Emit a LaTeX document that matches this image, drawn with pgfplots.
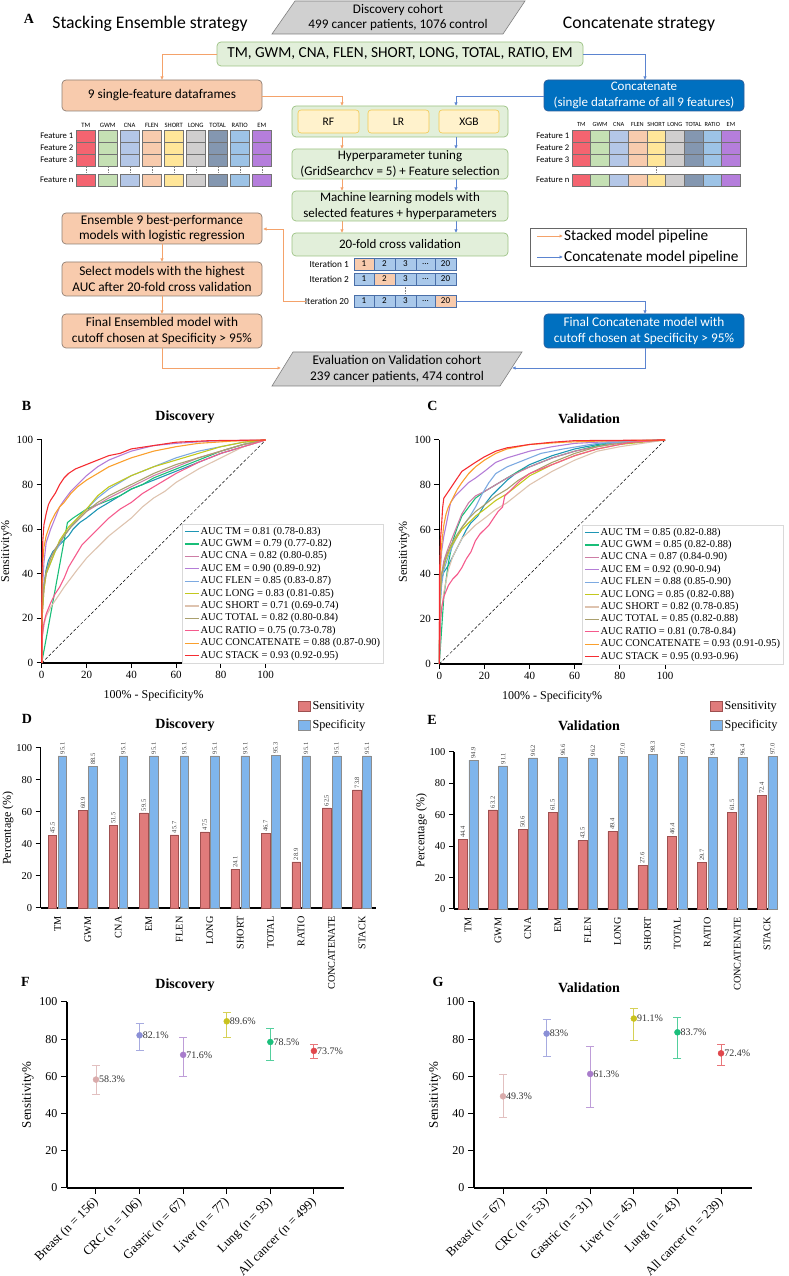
\documentclass[border=0pt]{standalone}
\usepackage{pgfplots}
\pgfplotsset{compat=1.18}
\usepackage{fontspec}
\setmainfont{Liberation Serif}
\newfontfamily\calibri{Carlito}
\usetikzlibrary{arrows.meta}
% curve colours
\definecolor{cTM}{RGB}{30,150,180}
\definecolor{cGWM}{RGB}{25,190,120}
\definecolor{cCNA}{RGB}{205,125,165}
\definecolor{cEM}{RGB}{180,125,215}
\definecolor{cFLEN}{RGB}{125,170,225}
\definecolor{cLONG}{RGB}{195,200,30}
\definecolor{cSHORT}{RGB}{222,195,175}
\definecolor{cTOTAL}{RGB}{170,160,110}
\definecolor{cRATIO}{RGB}{245,90,140}
\definecolor{cCONC}{RGB}{250,160,45}
\definecolor{cSTACK}{RGB}{245,45,50}
% bars
\definecolor{sensf}{HTML}{E07B7B}
\definecolor{sensd}{HTML}{9E5050}
\definecolor{specf}{HTML}{7FB5EC}
\definecolor{specd}{HTML}{8C8C8C}
% points
\definecolor{pBreast}{HTML}{D9ABAB}
\definecolor{pCRC}{HTML}{8A8FD6}
\definecolor{pGastric}{HTML}{A87CCB}
\definecolor{pLiver}{HTML}{C9C21E}
\definecolor{pLung}{HTML}{1BBF7C}
\definecolor{pAll}{HTML}{E0474C}
% flowchart
\definecolor{gfill}{HTML}{E2EFDA}
\definecolor{gdraw}{HTML}{9CC283}
\definecolor{ofill}{HTML}{F8CBAD}
\definecolor{odraw}{HTML}{8F7F74}
\definecolor{bbox}{HTML}{0070C0}
\definecolor{bdraw}{HTML}{2E5E9A}
\definecolor{yfill}{HTML}{FFF2CC}
\definecolor{ydraw}{HTML}{F4C84F}
\definecolor{pgray}{HTML}{D0D0D0}
\definecolor{pgrayd}{HTML}{808080}
\definecolor{oarrow}{HTML}{F4A26A}
\definecolor{barrow}{HTML}{5B84D0}
\definecolor{cellb}{HTML}{A9C8EA}
\definecolor{celld}{HTML}{4A6FA8}
\definecolor{fTM}{HTML}{F46470}
\definecolor{fGWM}{HTML}{C5E0B4}
\definecolor{fCNA}{HTML}{B4C7E7}
\definecolor{fFLEN}{HTML}{F8CBAD}
\definecolor{fSHORT}{HTML}{FFE699}
\definecolor{fLONG}{HTML}{D0CECE}
\definecolor{fTOTAL}{HTML}{8497B0}
\definecolor{fRATIO}{HTML}{9DC3E6}
\definecolor{fEM}{HTML}{B57EDC}
\def\threedots{...}
\newcommand\legfont{\fontsize{10.5}{12}\selectfont}

\pgfplotsset{
  gp/.style={scale only axis, anchor=south west, axis x line*=bottom, axis y line*=left,
    axis line style={line width=1.3pt}, tick style={line width=1pt, black},
    tick align=outside, major tick length=5pt,
    tick label style={font=\fontsize{11}{12}\selectfont},
    label style={font=\fontsize{12}{13}\selectfont}, ylabel shift=-2pt,
    /pgf/number format/assume math mode=true, clip=false},
  roc/.style={gp, xmin=0,xmax=100,ymin=0,ymax=100, xtick={0,20,...,100}, ytick={0,20,...,100},
    xlabel={100\% - Specificity\%}, ylabel={Sensitivity\%}, xlabel shift=4pt,
    legend cell align=left,
    legend style={anchor=south west, draw=black!15, fill=white, font=\legfont,
      inner xsep=2pt, inner ysep=1pt, row sep=0pt, nodes={inner sep=1.2pt, font=\legfont, text height=7.6pt, text depth=2.4pt}},
    legend image code/.code={\draw[##1, line width=1.3pt] (0pt,0pt) -- (14pt,0pt);},
    every axis plot/.append style={line width=1.1pt, mark=none}},
  bars/.style={gp, ybar=1.5pt, bar width=8.5pt, ymin=0, ymax=100, ytick={0,20,...,100}, xtick={0,...,10},
    tick label style={font=\fontsize{10.5}{12}\selectfont},
    xticklabels={TM,GWM,CNA,EM,FLEN,LONG,SHORT,TOTAL,RATIO,CONCATENATE,STACK},
    xticklabel style={rotate=90, anchor=east, font=\fontsize{10.2}{12}\selectfont},
    x tick style={draw=none}, ylabel={Percentage (\%)}, ylabel shift=-4pt,
    nodes near coords={\pgfmathprintnumber[fixed,fixed zerofill,precision=1]{\pgfplotspointmeta}},
    every node near coord/.append style={rotate=90, anchor=west, font=\fontsize{6.5}{7}\selectfont, text=black!75, inner sep=1.5pt},
    legend style={anchor=north west, draw=none, fill=none, font=\fontsize{12.2}{13}\selectfont, row sep=5pt},
    legend cell align=left,
    legend image code/.code={\draw[##1] (0pt,-5pt) rectangle (12pt,5pt);}},
  pts/.style={gp, ymin=0, ymax=100, ytick={0,20,...,100}, xtick={0,...,5}, major tick length=6pt,
    tick label style={font=\fontsize{12}{13}\selectfont},
    xticklabel style={xshift=3pt, yshift=-4pt, rotate=45, anchor=east, font=\fontsize{12.8}{14}\selectfont},
    ylabel={Sensitivity\%}, ylabel shift=-1pt, label style={font=\fontsize{13}{14}\selectfont},
    every axis plot/.append style={only marks, mark=*, mark size=3pt, nodes near coords, point meta=explicit symbolic,
      error bars/y dir=both, error bars/y explicit},
    every node near coord/.append style={anchor=west, font=\fontsize{10}{11}\selectfont, text=black!80, xshift=2pt, inner sep=1pt}},
  eb/.style={color=#1, error bars/error bar style={#1!75, line width=0.9pt},
    error bars/error mark options={rotate=90, mark size=4pt, #1!75, line width=0.9pt}},
}

\begin{document}
\begin{tikzpicture}[x=1pt,y=1pt]
\path[use as bounding box] (0,0) rectangle (789,1276);

%================ PANEL A (flowchart) =================
\begin{scope}[shift={(0,1276)}, yscale=-1]
\tikzset{arr/.style={line width=0.8pt, -{Latex[length=3.5pt,width=3.5pt]}},
  bx/.style={line width=0.7pt, rounded corners=4pt},
  tx/.style={align=center, font=\calibri\fontsize{13}{15.5}\selectfont}}
\node[font=\bfseries\fontsize{14}{14}\selectfont] at (29,19) {A};
\node[font=\calibri\fontsize{17.7}{19}\selectfont] at (150,24) {Stacking Ensemble strategy};
\node[font=\calibri\fontsize{17.7}{19}\selectfont] at (639,24) {Concatenate strategy};
\filldraw[fill=pgray, draw=pgrayd, line width=0.6pt] (295,1) -- (525,1) -- (503,34) -- (272,34) -- cycle;
\node[tx, font=\calibri\fontsize{13.2}{15.5}\selectfont] at (398,17.5) {Discovery cohort\\499 cancer patients, 1076 control};
\filldraw[fill=gfill, draw=gdraw, bx] (217,42) rectangle (583,66);
\node[font=\calibri\fontsize{15.3}{17}\selectfont] at (400,54) {TM, GWM, CNA, FLEN, SHORT, LONG, TOTAL, RATIO, EM};
\draw[oarrow, arr] (217,54) -- (162,54) -- (162,80);
\draw[barrow, arr] (583,54) -- (645,54) -- (645,80);
\filldraw[fill=ofill, draw=odraw, bx] (62,80) rectangle (262,111);
\node[tx, font=\calibri\fontsize{13.3}{15.5}\selectfont] at (162,95.5) {9 single-feature dataframes};
\filldraw[fill=bbox, draw=bdraw, bx] (544,80) rectangle (744,111);
\node[tx, text=white] at (644,95.5) {Concatenate\\(single dataframe of all 9 features)};
\draw[oarrow, arr] (262,96) -- (342,96) -- (342,106);
\draw[barrow, arr] (544,96) -- (456,96) -- (456,106);
\filldraw[fill=gfill, draw=gdraw, bx] (292,106) rectangle (508,137);
\foreach \a/\b/\t in {298/359/RF, 368/429/LR, 439/499/XGB} {
  \filldraw[fill=yfill, draw=ydraw, line width=0.6pt, rounded corners=3pt] (\a,110) rectangle (\b,133);
  \node[font=\calibri\fontsize{11.5}{13}\selectfont] at ({(\a+\b)/2},121.5) {\t};
}
\foreach \ya/\yb in {137/149, 179/191, 221/233} {
  \draw[oarrow, arr] (342,\ya) -- (342,\yb);
  \draw[barrow, arr] (456,\ya) -- (456,\yb);
}
\filldraw[fill=gfill, draw=gdraw, bx] (292,149) rectangle (508,179);
\node[tx] at (400,164) {Hyperparameter tuning\\(GridSearchcv = 5) + Feature selection};
\filldraw[fill=gfill, draw=gdraw, bx] (292,191) rectangle (508,221);
\node[tx] at (400,206) {Machine learning models with\\selected features + hyperparameters};
\filldraw[fill=gfill, draw=gdraw, bx] (292,233) rectangle (508,256);
\node[tx] at (400,244.5) {20-fold cross validation};
% left feature grid
\foreach \c/\l [count=\i from 0] in {fTM/TM,fGWM/GWM,fCNA/CNA,fFLEN/FLEN,fSHORT/SHORT,fLONG/LONG,fTOTAL/TOTAL,fRATIO/RATIO,fEM/EM} {
  \pgfmathsetmacro\xa{76+22*\i}
  \node[font=\calibri\fontsize{6.6}{7}\selectfont, inner sep=0.5pt] at (\xa+9.75,125) {\l};
  \foreach \y in {130,142,154,174} {
    \filldraw[fill=\c, draw=black!55, line width=0.5pt] (\xa,\y) rectangle (\xa+19.5,\y+12);
  }
  \draw[densely dotted, black!50] (\xa+9.75,167.5) -- (\xa+9.75,172.5);
}
% right feature grid
\foreach \c/\l [count=\i from 0] in {fTM/TM,fGWM/GWM,fCNA/CNA,fFLEN/FLEN,fSHORT/SHORT,fLONG/LONG,fTOTAL/TOTAL,fRATIO/RATIO,fEM/EM} {
  \pgfmathsetmacro\xa{572+18.7*\i}
  \node[font=\calibri\fontsize{6.3}{7}\selectfont, inner sep=0.5pt] at (\xa+9.35,124) {\l};
  \foreach \y in {130,142,154,174} {
    \filldraw[fill=\c, draw=black!55, line width=0.5pt] (\xa,\y) rectangle (\xa+18.7,\y+12);
  }
}
\draw[densely dotted, black!50] (656,167.5) -- (656,172.5);
\foreach \y/\t in {136/Feature 1,148/Feature 2,160/Feature 3,180/Feature n} {
  \node[anchor=east, font=\calibri\fontsize{8.6}{9}\selectfont, inner sep=1pt] at (74.5,\y) {\t};
  \node[anchor=east, font=\calibri\fontsize{8.6}{9}\selectfont, inner sep=1pt] at (570.5,\y) {\t};
}
% iterations
\foreach \y in {258,273,295} {
  \foreach \xa/\xb in {354/374,374/395,395/416,416/435,435/456} {
    \filldraw[fill=cellb, draw=celld, line width=0.5pt] (\xa,\y) rectangle (\xb,\y+12);
  }
}
\filldraw[fill=ofill, draw=celld, line width=0.5pt] (354,258) rectangle (374,270);
\filldraw[fill=ofill, draw=celld, line width=0.5pt] (374,273) rectangle (395,285);
\filldraw[fill=ofill, draw=celld, line width=0.5pt] (435,295) rectangle (456,307);
\foreach \y in {264,279,301} {
  \foreach \x/\t in {364/1, 384.5/2, 405.5/3, 425.5/\threedots, 445.5/20} {
    \node[font=\calibri\fontsize{9}{10}\selectfont] at (\x,\y) {\t};
  }
}
\draw[densely dotted, black!50] (405.5,287) -- (405.5,293);
\foreach \y/\t in {264/Iteration 1, 279/Iteration 2, 301/Iteration 20} {
  \node[anchor=east, font=\calibri\fontsize{9.3}{10}\selectfont, inner sep=1pt] at (350,\y) {\t};
}
\draw[oarrow, arr] (306,301) -- (283,301) -- (283,229) -- (263,229);
% left orange boxes
\filldraw[fill=ofill, draw=odraw, bx] (62,213) rectangle (262,244);
\node[tx, font=\calibri\fontsize{13.3}{15.5}\selectfont] at (162,228.5) {Ensemble 9 best-performance\\models with logistic regression};
\filldraw[fill=ofill, draw=odraw, bx] (62,262) rectangle (262,296);
\node[tx, font=\calibri\fontsize{13.3}{15.5}\selectfont] at (162,279) {Select models with the highest\\AUC after 20-fold cross validation};
\filldraw[fill=ofill, draw=odraw, bx] (62,314) rectangle (262,348);
\node[tx, font=\calibri\fontsize{13.3}{15.5}\selectfont] at (162,331) {Final Ensembled model with\\cutoff chosen at Specificity > 95\%};
\draw[oarrow, arr] (162,244) -- (162,262);
\draw[oarrow, arr] (162,296) -- (162,314);
\draw[oarrow, arr] (162,348) -- (162,368) -- (281,368);
% right blue
\draw[barrow, arr] (456,301) -- (645,301) -- (645,314);
\filldraw[fill=bbox, draw=bdraw, bx] (544,314) rectangle (744,348);
\node[tx, text=white, font=\calibri\fontsize{13.3}{15.5}\selectfont] at (644,331) {Final Concatenate model with\\cutoff chosen at Specificity > 95\%};
\draw[barrow, arr] (645,348) -- (645,368) -- (512,368);
% evaluation
\filldraw[fill=pgray, draw=pgrayd, line width=0.6pt] (293,352) -- (522,352) -- (500,386) -- (272,386) -- cycle;
\node[tx, font=\calibri\fontsize{13.3}{15.5}\selectfont] at (397,369) {Evaluation on Validation cohort\\239 cancer patients, 474 control};
% legend
\filldraw[fill=white, draw=black!60, line width=0.6pt] (530,228) rectangle (746,266);
\draw[oarrow, arr] (537,236) -- (563,236);
\node[anchor=west, font=\calibri\fontsize{15.3}{16}\selectfont, inner sep=1pt] at (563,236.5) {Stacked model pipeline};
\draw[barrow, arr] (537,257) -- (563,257);
\node[anchor=west, font=\calibri\fontsize{15.3}{16}\selectfont, inner sep=1pt] at (563,257.5) {Concatenate model pipeline};
% panel letters and titles
\foreach \x/\y/\t in {26.5/406/B, 432.5/406/C, 27/719/D, 432/720/E, 25.5/982/F, 438/982/G} {
  \node[font=\bfseries\fontsize{14}{14}\selectfont] at (\x,\y) {\t};
}
\foreach \x/\y/\t in {185/417/Discovery, 589/419/Validation, 185/725/Discovery, 589/726/Validation, 185/985/Discovery, 589/988/Validation} {
  \node[font=\bfseries\fontsize{14}{15}\selectfont] at (\x,\y) {\t};
}
\end{scope}

%================ PANEL B =================
\begin{axis}[roc, at={(41.7pt,613pt)}, width=224pt, height=223pt,
  legend style={at={(rel axis cs:0.626,0)}}]
\addplot[black, line width=0.5pt, densely dashed, forget plot] coordinates {(0,0) (100,100)};
\addplot[cTM] coordinates {(0,0)(0.3,25)(1,35)(2,42)(3,46)(5,50)(8,53)(10,55)(12,57)(14,60)(17,63)(20,65)(25,69)(30,72)(35,75)(40,78)(50,82)(60,86)(70,90)(80,94)(90,97)(100,100)};
\addplot[cGWM] coordinates {(0,0)(11.5,63)(14,65)(17,67)(20,69)(25,71)(30,73)(35,75)(40,78)(45,80)(50,83)(60,87)(70,91)(80,95)(90,98)(100,100)};
\addplot[cCNA] coordinates {(0,0)(0.3,22)(1,33)(2,40)(4,47)(6,51)(8,54)(10,57)(13,61)(16,64)(20,68)(25,71)(30,74)(40,79)(50,84)(60,88)(70,92)(80,95)(90,98)(100,100)};
\addplot[cEM] coordinates {(0,0)(0.2,30)(1,45)(2,54)(4,60)(6,65)(8,70)(10,73)(13,77)(16,80)(20,84)(25,88)(30,91)(35,93)(40,95)(50,97.5)(60,98.5)(75,99.5)(100,100)};
\addplot[cFLEN] coordinates {(0,0)(0.3,25)(1,35)(2,40)(4,45)(6,50)(8,53)(10,57)(13,61)(16,65)(20,69)(25,74)(30,78)(35,81)(40,84)(50,88)(60,92)(70,95)(80,97)(90,99)(100,100)};
\addplot[cLONG] coordinates {(0,0)(0.3,22)(1,33)(2,40)(4,45)(6,50)(8,55)(10,58)(12,61)(15,64)(20,69)(25,75)(30,79)(40,84)(50,88)(60,91)(70,94)(80,97)(90,99)(100,100)};
\addplot[cSHORT] coordinates {(0,0)(0.3,12)(1,17)(2,21)(4,25)(6,28)(8,31)(10,34)(13,38)(16,42)(20,47)(25,52)(30,57)(35,61)(40,65)(45,70)(50,74)(55,77)(60,81)(70,87)(80,92)(90,97)(100,100)};
\addplot[cTOTAL] coordinates {(0,0)(0.3,25)(1,35)(2,41)(4,47)(6,51)(8,54)(10,57)(13,61)(16,64)(20,68)(25,72)(30,75)(40,80)(50,85)(60,89)(70,92)(80,95)(90,98)(100,100)};
\addplot[cRATIO] coordinates {(0,0)(0.3,12)(1,18)(2,22)(4,27)(6,31)(8,34)(10,38)(12,43)(15,48)(18,53)(22,57)(25,60)(30,65)(35,69)(40,72)(45,76)(50,79)(55,82)(60,85)(70,90)(80,94)(90,97)(100,100)};
\addplot[cCONC] coordinates {(0,0)(0.2,35)(0.5,45)(1,52)(2,57)(4,63)(6,67)(8,70)(10,72)(13,76)(16,79)(20,82)(25,85)(30,88)(35,90)(40,92)(50,95)(60,97)(70,98.5)(85,99.5)(100,100)};
\addplot[cSTACK] coordinates {(0,0)(0.1,38)(0.5,55)(1,62)(2,67)(3,71)(4,73)(6,76)(8,80)(10,83)(12,85)(15,87)(20,89)(25,91)(30,93)(35,94)(40,96)(50,97.5)(60,99)(75,99.7)(100,100)};
\legend{AUC TM = 0.81 (0.78-0.83), AUC GWM = 0.79 (0.77-0.82), AUC CNA = 0.82 (0.80-0.85), AUC EM = 0.90 (0.89-0.92), AUC FLEN = 0.85 (0.83-0.87), AUC LONG = 0.83 (0.81-0.85), AUC SHORT = 0.71 (0.69-0.74), AUC TOTAL = 0.82 (0.80-0.84), AUC RATIO = 0.75 (0.73-0.78), AUC CONCATENATE = 0.88 (0.87-0.90), AUC STACK = 0.93 (0.92-0.95)}
\end{axis}

%================ PANEL C =================
\begin{axis}[roc, at={(439.3pt,612pt)}, width=225.7pt, height=224pt,
  legend style={at={(rel axis cs:0.632,0)}}]
\addplot[black, line width=0.5pt, densely dashed, forget plot] coordinates {(0,0) (100,100)};
\addplot[cTM] coordinates {(0,0)(0.3,25)(1,38)(2,41)(4,44)(6,48)(8,52)(10,56)(12,60)(14,63)(17,66)(20,71)(23,75)(26,78)(30,82)(35,86)(40,89)(50,93)(60,96)(70,98)(80,99.5)(100,100)};
\addplot[cGWM] coordinates {(0,0)(2,30)(4,45)(6,55)(8,61)(10,66)(13,70)(16,74)(20,77)(25,80)(30,83)(35,86)(40,88)(50,92)(60,95)(70,97.5)(80,99)(100,100)};
\addplot[cCNA] coordinates {(0,0)(0.3,30)(1,40)(2,46)(4,52)(6,57)(8,62)(10,67)(13,72)(16,75)(20,77)(25,80)(30,83)(40,88)(50,92)(60,95)(70,97)(80,99)(100,100)};
\addplot[cEM] coordinates {(0,0)(0.2,35)(0.5,42)(1,50)(2,57)(3,62)(4,67)(5,72)(7,75)(10,78)(13,81)(16,83)(20,86)(25,90)(30,92)(40,95)(50,97)(60,98.5)(80,99.5)(100,100)};
\addplot[cFLEN] coordinates {(0,0)(0.3,25)(1,35)(2,42)(4,48)(6,53)(8,57)(10,61)(13,65)(16,70)(19,76)(22,81)(25,85)(30,88)(35,90)(45,94)(55,96)(70,98.5)(100,100)};
\addplot[cLONG] coordinates {(0,0)(0.3,30)(1,40)(3,47)(5,52)(8,57)(10,60)(13,63)(16,66)(20,69)(25,73)(30,76)(35,80)(40,84)(50,89)(60,93)(70,96)(80,98)(100,100)};
\addplot[cSHORT] coordinates {(0,0)(0.5,20)(2,32)(4,42)(6,48)(8,52)(10,56)(13,59)(16,62)(20,65)(25,69)(30,72)(35,76)(40,80)(50,86)(60,91)(70,95)(80,97)(100,100)};
\addplot[cTOTAL] coordinates {(0,0)(0.3,30)(1,40)(3,48)(5,53)(8,58)(10,61)(13,65)(16,68)(20,71)(25,75)(30,78)(35,82)(40,85)(50,90)(60,94)(70,97)(80,98.5)(100,100)};
\addplot[cRATIO] coordinates {(0,0)(0.5,18)(1,25)(2,30)(4,35)(6,38)(8,40)(10,43)(12,47)(14,50)(16,55)(18,58)(20,60)(22,62)(24,65)(26,68)(28,70)(29,75)(32,78)(36,82)(40,85)(50,89)(60,93)(70,96)(85,99)(100,100)};
\addplot[cCONC] coordinates {(0,0)(0.2,35)(0.5,45)(1,53)(2,62)(3,67)(4,70)(6,74)(8,78)(10,81)(13,85)(16,88)(20,91)(25,94)(30,96)(40,98)(55,99)(70,99.5)(100,100)};
\addplot[cSTACK] coordinates {(0,0)(0.1,40)(0.5,55)(1,62)(1.5,70)(2,74)(4,77)(6,80)(8,83)(10,86)(13,88)(16,90)(20,92.5)(25,95)(30,96.5)(40,98)(50,99)(60,99.7)(100,100)};
\legend{AUC TM = 0.85 (0.82-0.88), AUC GWM = 0.85 (0.82-0.88), AUC CNA = 0.87 (0.84-0.90), AUC EM = 0.92 (0.90-0.94), AUC FLEN = 0.88 (0.85-0.90), AUC LONG = 0.85 (0.82-0.88), AUC SHORT = 0.82 (0.78-0.85), AUC TOTAL = 0.85 (0.82-0.88), AUC RATIO = 0.81 (0.78-0.84), AUC CONCATENATE = 0.93 (0.91-0.95), AUC STACK = 0.95 (0.93-0.96)}
\end{axis}

%================ PANEL D =================
\begin{axis}[bars, at={(40.7pt,368pt)}, width=335.3pt, height=160pt, xmin=-0.55, xmax=10.46,
  legend style={at={(rel axis cs:0.758,1.319)}}]
\addplot[fill=sensf, draw=sensd, line width=0.5pt] coordinates {(0,45.5)(1,60.9)(2,51.5)(3,59.5)(4,45.7)(5,47.5)(6,24.1)(7,46.7)(8,28.9)(9,62.5)(10,73.8)};
\addplot[fill=specf, draw=specd, line width=0.5pt] coordinates {(0,95.1)(1,88.5)(2,95.1)(3,95.1)(4,95.1)(5,95.1)(6,95.1)(7,95.3)(8,95.1)(9,95.1)(10,95.1)};
\legend{Sensitivity, Specificity}
\end{axis}

%================ PANEL E =================
\begin{axis}[bars, at={(454pt,367pt)}, width=323pt, height=157pt, xmin=-0.47, xmax=10.33, bar width=9pt,
  legend style={at={(rel axis cs:0.783,1.35)}}]
\addplot[fill=sensf, draw=sensd, line width=0.5pt] coordinates {(0,44.4)(1,63.2)(2,50.6)(3,61.5)(4,43.5)(5,49.4)(6,27.6)(7,46.4)(8,29.7)(9,61.5)(10,72.4)};
\addplot[fill=specf, draw=specd, line width=0.5pt] coordinates {(0,94.9)(1,91.1)(2,96.2)(3,96.6)(4,96.2)(5,97.0)(6,98.3)(7,97.0)(8,96.4)(9,96.4)(10,97.0)};
\legend{Sensitivity, Specificity}
\end{axis}

%================ PANEL F =================
\begin{axis}[pts, at={(67pt,88pt)}, width=277pt, height=186pt, xmin=-0.665, xmax=5.69,
  xticklabels={Breast (n = 156), CRC (n = 106), Gastric (n = 67), Liver (n = 77), Lung (n = 93), All cancer (n = 499)}]
\addplot[eb=pBreast] coordinates {(0,58.3) += (0,7.7) -= (0,7.8) [58.3\%]};
\addplot[eb=pCRC] coordinates {(1,82.1) += (0,6.1) -= (0,8.4) [82.1\%]};
\addplot[eb=pGastric] coordinates {(2,71.6) += (0,9.2) -= (0,11.8) [71.6\%]};
\addplot[eb=pLiver] coordinates {(3,89.6) += (0,4.8) -= (0,8.8) [89.6\%]};
\addplot[eb=pLung] coordinates {(4,78.5) += (0,7.5) -= (0,9.7) [78.5\%]};
\addplot[eb=pAll] coordinates {(5,73.7) += (0,3.6) -= (0,4.0) [73.7\%]};
\end{axis}

%================ PANEL G =================
\begin{axis}[pts, at={(474pt,88pt)}, width=278pt, height=186pt, xmin=-0.665, xmax=5.71,
  xticklabels={Breast (n = 67), CRC (n = 53), Gastric (n = 31), Liver (n = 45), Lung (n = 43), All cancer (n = 239)}]
\addplot[eb=pBreast] coordinates {(0,49.3) += (0,11.7) -= (0,11.5) [49.3\%]};
\addplot[eb=pCRC] coordinates {(1,83) += (0,7.7) -= (0,12.4) [83\%]};
\addplot[eb=pGastric] coordinates {(2,61.3) += (0,15.0) -= (0,17.9) [61.3\%]};
\addplot[eb=pLiver] coordinates {(3,91.1) += (0,5.4) -= (0,11.9) [91.1\%]};
\addplot[eb=pLung] coordinates {(4,83.7) += (0,7.9) -= (0,14.0) [83.7\%]};
\addplot[eb=pAll] coordinates {(5,72.4) += (0,5.0) -= (0,6.3) [72.4\%]};
\end{axis}
\end{tikzpicture}
\end{document}
